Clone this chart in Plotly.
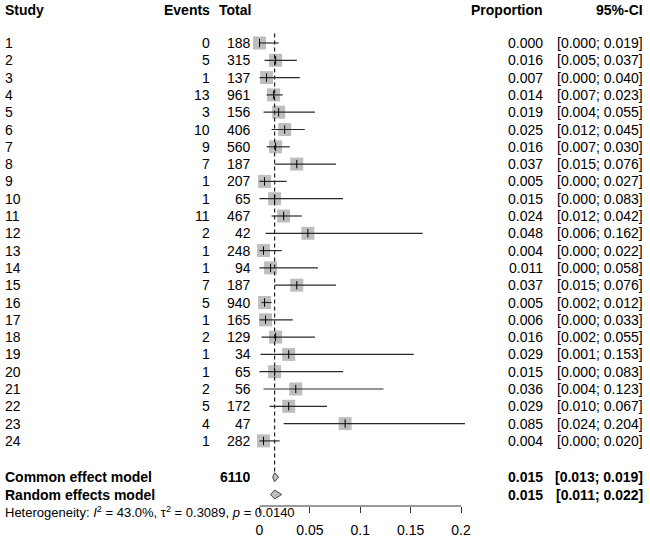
import plotly.graph_objects as go

# ---------------- data ----------------
studies = [str(i) for i in range(1, 25)]
events = [0, 5, 1, 13, 3, 10, 9, 7, 1, 1, 11, 2, 1, 1, 7, 5, 1, 2, 1, 1, 2, 5, 4, 1]
totals = [188, 315, 137, 961, 156, 406, 560, 187, 207, 65, 467, 42, 248, 94, 187,
          940, 165, 129, 34, 65, 56, 172, 47, 282]
prop = [0.000, 0.016, 0.007, 0.014, 0.019, 0.025, 0.016, 0.037, 0.005, 0.015, 0.024, 0.048,
        0.004, 0.011, 0.037, 0.005, 0.006, 0.016, 0.029, 0.015, 0.036, 0.029, 0.085, 0.004]
lower = [0.000, 0.005, 0.000, 0.007, 0.004, 0.012, 0.007, 0.015, 0.000, 0.000, 0.012, 0.006,
         0.000, 0.000, 0.015, 0.002, 0.000, 0.002, 0.001, 0.000, 0.004, 0.010, 0.024, 0.000]
upper = [0.019, 0.037, 0.040, 0.023, 0.055, 0.045, 0.030, 0.076, 0.027, 0.083, 0.042, 0.162,
         0.022, 0.058, 0.076, 0.012, 0.033, 0.055, 0.153, 0.083, 0.123, 0.067, 0.204, 0.020]

model_labels = ["Common effect model", "Random effects model"]
model_total = ["6110", ""]
model_est = [0.015, 0.015]
model_lower = [0.013, 0.011]
model_upper = [0.019, 0.022]

heterogeneity = "Heterogeneity: <i>I</i><sup>2</sup> = 43.0%, τ<sup>2</sup> = 0.3089, <i>p</i> = 0.0140"
tick_vals = [0, 0.05, 0.1, 0.15, 0.2]
tick_text = ["0", "0.05", "0.1", "0.15", "0.2"]
headers = ["Study", "Events", "Total", "Proportion", "95%-CI"]

# ---------------- layout helpers ----------------
W, H = 650, 537
FONT = "Liberation Sans, Arial, Helvetica, sans-serif"
FS = 14
row_px0, row_step = 43.0, 17.3          # pixel y of row 1, row spacing
x0_px, px_per_unit = 259.5, 1007.5       # pixel x of value 0, scale
axis_px = 506


def y_of_px(px):
    return 1 + (px - row_px0) / row_step


rows = list(range(1, len(studies) + 1))
model_rows = [len(studies) + 2.1, len(studies) + 3.1]
het_row = y_of_px(512)
header_row = y_of_px(10)

fig = go.Figure()

# boxes
fig.add_trace(go.Scatter(
    x=prop, y=rows, mode="markers",
    marker=dict(symbol="square", size=13, color="#bebebe", line=dict(width=0)),
    hoverinfo="skip", showlegend=False))

# dashed common effect line
fig.add_trace(go.Scatter(
    x=[model_est[0], model_est[0]], y=[0.45, model_rows[0] - 0.27],
    mode="lines", line=dict(color="#222222", width=1.2, dash="4px,3px"),
    hoverinfo="skip", showlegend=False))

# CI lines
cx, cy = [], []
for l, u, r in zip(lower, upper, rows):
    cx += [l, u, None]
    cy += [r, r, None]
fig.add_trace(go.Scatter(x=cx, y=cy, mode="lines",
                         line=dict(color="#2a2a2a", width=1.2),
                         hoverinfo="skip", showlegend=False))

# estimate ticks
fig.add_trace(go.Scatter(
    x=prop, y=rows, mode="markers",
    marker=dict(symbol="line-ns-open", size=6, color="black", line=dict(width=1, color="black")),
    hoverinfo="skip", showlegend=False))

# diamonds
half_h = 0.26
for est, lo, up, r in zip(model_est, model_lower, model_upper, model_rows):
    fig.add_trace(go.Scatter(
        x=[lo, est, up, est, lo], y=[r, r - half_h, r, r + half_h, r],
        mode="lines", fill="toself", fillcolor="#bebebe",
        line=dict(color="#444444", width=1),
        hoverinfo="skip", showlegend=False))

# axis line
fig.add_shape(type="line", xref="x", yref="paper",
              x0=min(tick_vals), x1=max(tick_vals),
              y0=(H - axis_px) / H, y1=(H - axis_px) / H,
              line=dict(color="#333333", width=1))

anns = []


def txt(text, xpx, y, anchor, bold=False, size=FS):
    anns.append(dict(
        text=f"<b>{text}</b>" if bold else text,
        x=xpx / W, xref="paper", y=y, yref="y",
        xanchor=anchor, yanchor="middle", showarrow=False,
        font=dict(family=FONT, size=size, color="black")))


col_x = {"Study": 3, "Events": 212, "Total": 253, "Proportion": 545, "95%-CI": 645}
anchors = {"Study": "left", "Events": "right", "Total": "right", "Proportion": "right", "95%-CI": "right"}
for h in headers:
    txt(h, col_x[h], header_row, anchors[h], bold=True)

for s, e, t, p, l, u, r in zip(studies, events, totals, prop, lower, upper, rows):
    txt(s, col_x["Study"], r, "left")
    txt(str(e), col_x["Events"], r, "right")
    txt(str(t), col_x["Total"], r, "right")
    txt(f"{p:.3f}", col_x["Proportion"], r, "right")
    txt(f"[{l:.3f}; {u:.3f}]", col_x["95%-CI"], r, "right")

for lab, tot, est, lo, up, r in zip(model_labels, model_total, model_est, model_lower, model_upper, model_rows):
    txt(lab, col_x["Study"], r, "left", bold=True)
    if tot:
        txt(tot, col_x["Total"], r, "right", bold=True)
    txt(f"{est:.3f}", col_x["Proportion"], r, "right", bold=True)
    txt(f"[{lo:.3f}; {up:.3f}]", col_x["95%-CI"], r, "right", bold=True)

txt(heterogeneity, col_x["Study"], het_row, "left", size=13)

fig.update_layout(
    width=W, height=H,
    margin=dict(l=0, r=0, t=0, b=0),
    paper_bgcolor="white", plot_bgcolor="white",
    showlegend=False,
    annotations=anns,
    xaxis=dict(range=[-x0_px / px_per_unit, (W - x0_px) / px_per_unit],
               domain=[0, 1], anchor="free", position=(H - axis_px) / H,
               showgrid=False, zeroline=False, showline=False,
               ticks="outside", ticklen=6, tickwidth=1, tickcolor="#333333",
               ticklabelstandoff=5,
               tickvals=tick_vals, ticktext=tick_text,
               tickfont=dict(family=FONT, size=FS, color="black")),
    yaxis=dict(range=[y_of_px(H), y_of_px(0)], domain=[0, 1],
               visible=False, showgrid=False, zeroline=False),
)

fig.write_html("out.html")
